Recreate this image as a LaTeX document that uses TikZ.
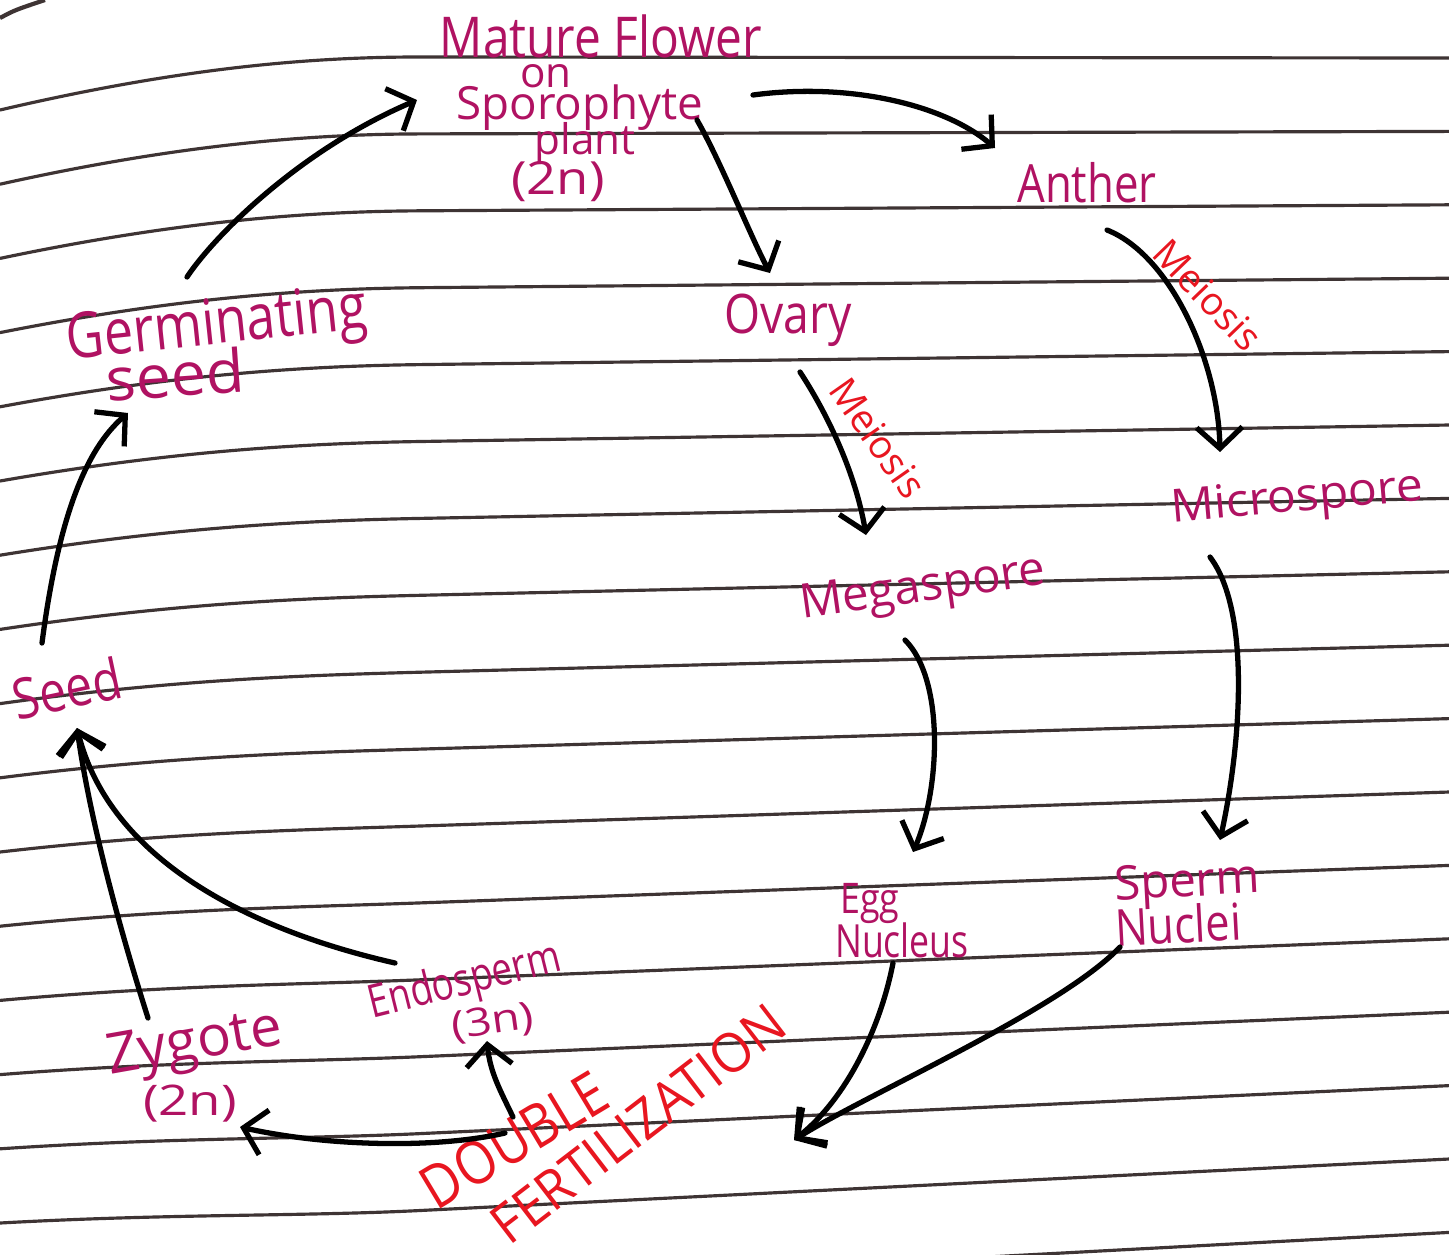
\documentclass[tikz,border=0pt]{standalone}
\usepackage{graphicx}
\usepackage{fontspec}
\setmainfont{Open Sans}
\usetikzlibrary{arrows.meta,calc}
\definecolor{ink}{RGB}{176,18,98}
\definecolor{redink}{RGB}{232,22,32}
\definecolor{rulecol}{RGB}{62,52,52}
\newcommand\hwtext[3]{\scalebox{#2}[1]{\fontsize{#1}{#1}\selectfont #3}}
\begin{document}
\begin{tikzpicture}[x=0.01cm,y=-0.01cm,
  rule/.style={draw=rulecol, line width=0.9pt},
  lbl/.style={text=ink, inner sep=0pt},
  rlbl/.style={text=redink, inner sep=0pt},
  arr/.style={draw=black, line width=1.5pt, line cap=round, line join=round,
    -{Straight Barb[length=6pt,width=13pt]}}]
\useasboundingbox (0,0) rectangle (1449,1254);
\fill[white] (0,0) rectangle (1449,1254);
% ruled paper
\foreach \n in {0,...,16}{
  \pgfmathsetmacro\L{110+74.2*\n}
  \pgfmathsetmacro\dd{max(53-2.7*\n,10)}
  \pgfmathsetmacro\M{\L-\dd}
  \pgfmathsetmacro\R{58+73.4*\n}
  \pgfmathsetmacro\Ma{\M-120*(\R-\M)/1029}
  \pgfmathsetmacro\La{\L-0.75*\dd}
  \draw[rule] (0,\L) .. controls (170,\La) and (300,\Ma) .. (420,\M) -- (1449,\R);
}
\draw[rule, line width=1.2pt] (0,18) .. controls (15,10) .. (45,0);
% labels
\node[lbl] (mature) at (601,36) {\hwtext{16}{0.85}{Mature Flower}};
\node[lbl] (on) at (546,76) {\hwtext{12}{1}{on}};
\node[lbl] (sporo) at (580,108) {\hwtext{13}{1}{Sporophyte}};
\node[lbl] (plant) at (585,144) {\hwtext{12}{1}{plant}};
\node[lbl] (f2n) at (558,182) {\hwtext{13}{1.15}{(2n)}};
\node[lbl] (anther) at (1087,183) {\hwtext{15}{0.83}{Anther}};
\node[rlbl, rotate=-46] (meiR) at (1208,295) {\hwtext{11}{1}{Meiosis}};
\node[lbl] (ovary) at (788,320) {\hwtext{15.5}{0.85}{Ovary}};
\node[rlbl, rotate=-55] (meiM) at (878,438) {\hwtext{11}{1}{Meiosis}};
\node[lbl, rotate=5] (micro) at (1297,500) {\hwtext{13}{1.05}{Microspore}};
\node[lbl, rotate=8] (mega) at (923,590) {\hwtext{13.5}{1}{Megaspore}};
\node[lbl] (egg) at (870,903) {\hwtext{12}{0.85}{Egg}};
\node[lbl] (nucleus) at (902,940) {\hwtext{13}{0.78}{Nucleus}};
\node[lbl, rotate=3] (sperm) at (1187,885) {\hwtext{13.5}{1}{Sperm}};
\node[lbl, rotate=3] (nuclei) at (1178,924) {\hwtext{14.5}{0.85}{Nuclei}};
\node[lbl, rotate=6] (germ) at (217,328) {\hwtext{18}{0.82}{Germinating}};
\node[lbl, rotate=4] (germseed) at (175,374) {\hwtext{17}{1.05}{seed}};
\node[lbl, rotate=12] (seed) at (67,688) {\hwtext{16}{0.85}{Seed}};
\node[lbl, rotate=10] (zyg) at (195,1046) {\hwtext{16}{1}{Zygote}};
\node[lbl] (zyg2n) at (190,1104) {\hwtext{12}{1.25}{(2n)}};
\node[lbl, rotate=14] (endo) at (465,983) {\hwtext{13}{0.8}{Endosperm}};
\node[lbl, rotate=8] (endo3n) at (493,1023) {\hwtext{11}{1.2}{(3n)}};
\node[rlbl, rotate=31] (double) at (514,1140) {\hwtext{17}{0.87}{DOUBLE}};
\node[rlbl, rotate=37.5] (fert) at (638,1124) {\hwtext{15.5}{0.95}{FERTILIZATION}};
% connectors
\draw[arr] ($(sporo)+(173,-13)$) .. controls (850,82) and (945,105) .. ($(anther)+(-92,-35)$);
\draw[arr] ($(sporo)+(117,12)$) .. controls (720,160) and (750,235) .. ($(ovary)+(-18,-47)$);
\draw[arr] ($(anther)+(20,47)$) .. controls (1170,255) and (1218,360) .. ($(micro)+(-77,-48)$);
\draw[arr] ($(ovary)+(12,52)$) .. controls (825,410) and (855,470) .. ($(mega)+(-57,-55)$);
\draw[arr] ($(micro)+(-87,57)$) .. controls (1250,610) and (1242,740) .. ($(sperm)+(33,-45)$);
\draw[arr] ($(mega)+(-18,50)$) .. controls (945,680) and (940,790) .. ($(egg)+(43,-51)$);
\draw[arr] ($(nucleus)+(-9,23)$) .. controls (880,1030) and (845,1100) .. ($(fert)+(156,16)$);
\draw[arr] ($(nuclei)+(-58,23)$) .. controls (1060,1010) and (865,1095) .. ($(fert)+(156,16)$);
\draw[arr] ($(double)+(-1,-23)$) .. controls (500,1090) and (490,1072) .. ($(endo3n)+(-6,18)$);
\draw[arr] ($(double)+(-9,-7)$) .. controls (430,1150) and (320,1145) .. ($(zyg2n)+(50,23)$);
\draw[arr] ($(zyg)+(-47,-28)$) .. controls (120,930) and (90,820) .. ($(seed)+(10,40)$);
\draw[arr] ($(endo)+(-70,-20)$) .. controls (250,930) and (110,860) .. ($(seed)+(10,40)$);
\draw[arr] ($(seed)+(-25,-45)$) .. controls (58,520) and (85,450) .. ($(germseed)+(-47,39)$);
\draw[arr] ($(germ)+(-30,-51)$) .. controls (215,235) and (300,150) .. ($(sporo)+(-163,-8)$);
\end{tikzpicture}
\end{document}
